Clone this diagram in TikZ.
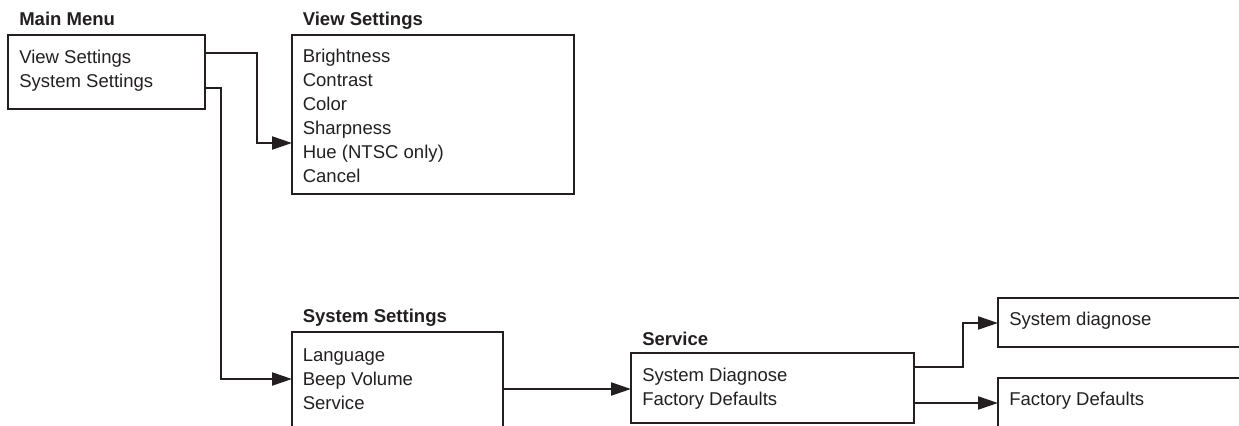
\documentclass[tikz,border=0pt]{standalone}
\usepackage{fontspec}
\setmainfont{Liberation Sans}
\usetikzlibrary{arrows.meta,calc}
\definecolor{ink}{HTML}{231F20}
\begin{document}
\begin{tikzpicture}[x=0.75pt,y=-0.75pt,
  box/.style={draw=ink, line width=1.6pt, anchor=north west, inner sep=0pt, outer sep=0pt},
  txt/.style={anchor=north west, inner sep=0pt, align=left, font=\fontsize{13.9}{18}\selectfont, text=ink},
  ttl/.style={anchor=base west, inner sep=0pt, font=\fontsize{13.9}{18}\selectfont\bfseries, text=ink},
  conn/.style={draw=ink, line width=1.6pt, -{Triangle[length=15pt,width=9.75pt]}}]
\useasboundingbox (0,0) rectangle (1239,425);
\clip (0,0) rectangle (1239,425);
% boxes
\node[box, minimum width=147.75pt, minimum height=55.5pt] (main) at (8,35) {};
\node[box, minimum width=211.5pt, minimum height=119.25pt] (view) at (292,35) {};
\node[box, minimum width=158.25pt, minimum height=81pt] (sysset) at (292,332) {};
\node[box, minimum width=212.25pt, minimum height=52.5pt] (service) at (631,353) {};
\node[box, minimum width=195pt, minimum height=36.75pt] (sysdiag) at (998,298) {};
\node[box, minimum width=195pt, minimum height=46.5pt] (factory) at (998,378) {};
% titles
\node[ttl] (mainT) at (19,25) {Main Menu};
\node[ttl] (viewT) at (302.5,25) {View Settings};
\node[ttl] (syssetT) at (302.5,322) {System Settings};
\node[ttl] (serviceT) at (642,345) {Service};
% contents
\node[txt] (mainX) at (19,50) {View Settings\\System Settings};
\node[txt] (viewX) at (302.5,49) {Brightness\\Contrast\\Color\\Sharpness\\Hue (NTSC only)\\Cancel};
\node[txt] (syssetX) at (302.5,348) {Language\\Beep Volume\\Service};
\node[txt] (serviceX) at (642,368) {System Diagnose\\Factory Defaults};
\node[txt] (sysdiagX) at (1009,312) {System diagnose};
\node[txt] (factoryX) at (1009,392) {Factory Defaults};
% connectors
\draw[conn] ($(main.north east)+(0,18)$) -- ++(52,0) |- ($(view.north west)+(0,108)$);
\draw[conn] ($(main.north east)+(0,53)$) -- ++(16,0) |- ($(sysset.north west)+(0,47)$);
\draw[conn] ($(sysset.north east)+(0,57)$) -- ($(service.north west)+(0,36)$);
\draw[conn] ($(service.north east)+(0,14)$) -- ++(49,0) |- ($(sysdiag.north west)+(0,25)$);
\draw[conn] ($(service.north east)+(0,50)$) -- ($(factory.north west)+(0,25)$);
\end{tikzpicture}
\end{document}
